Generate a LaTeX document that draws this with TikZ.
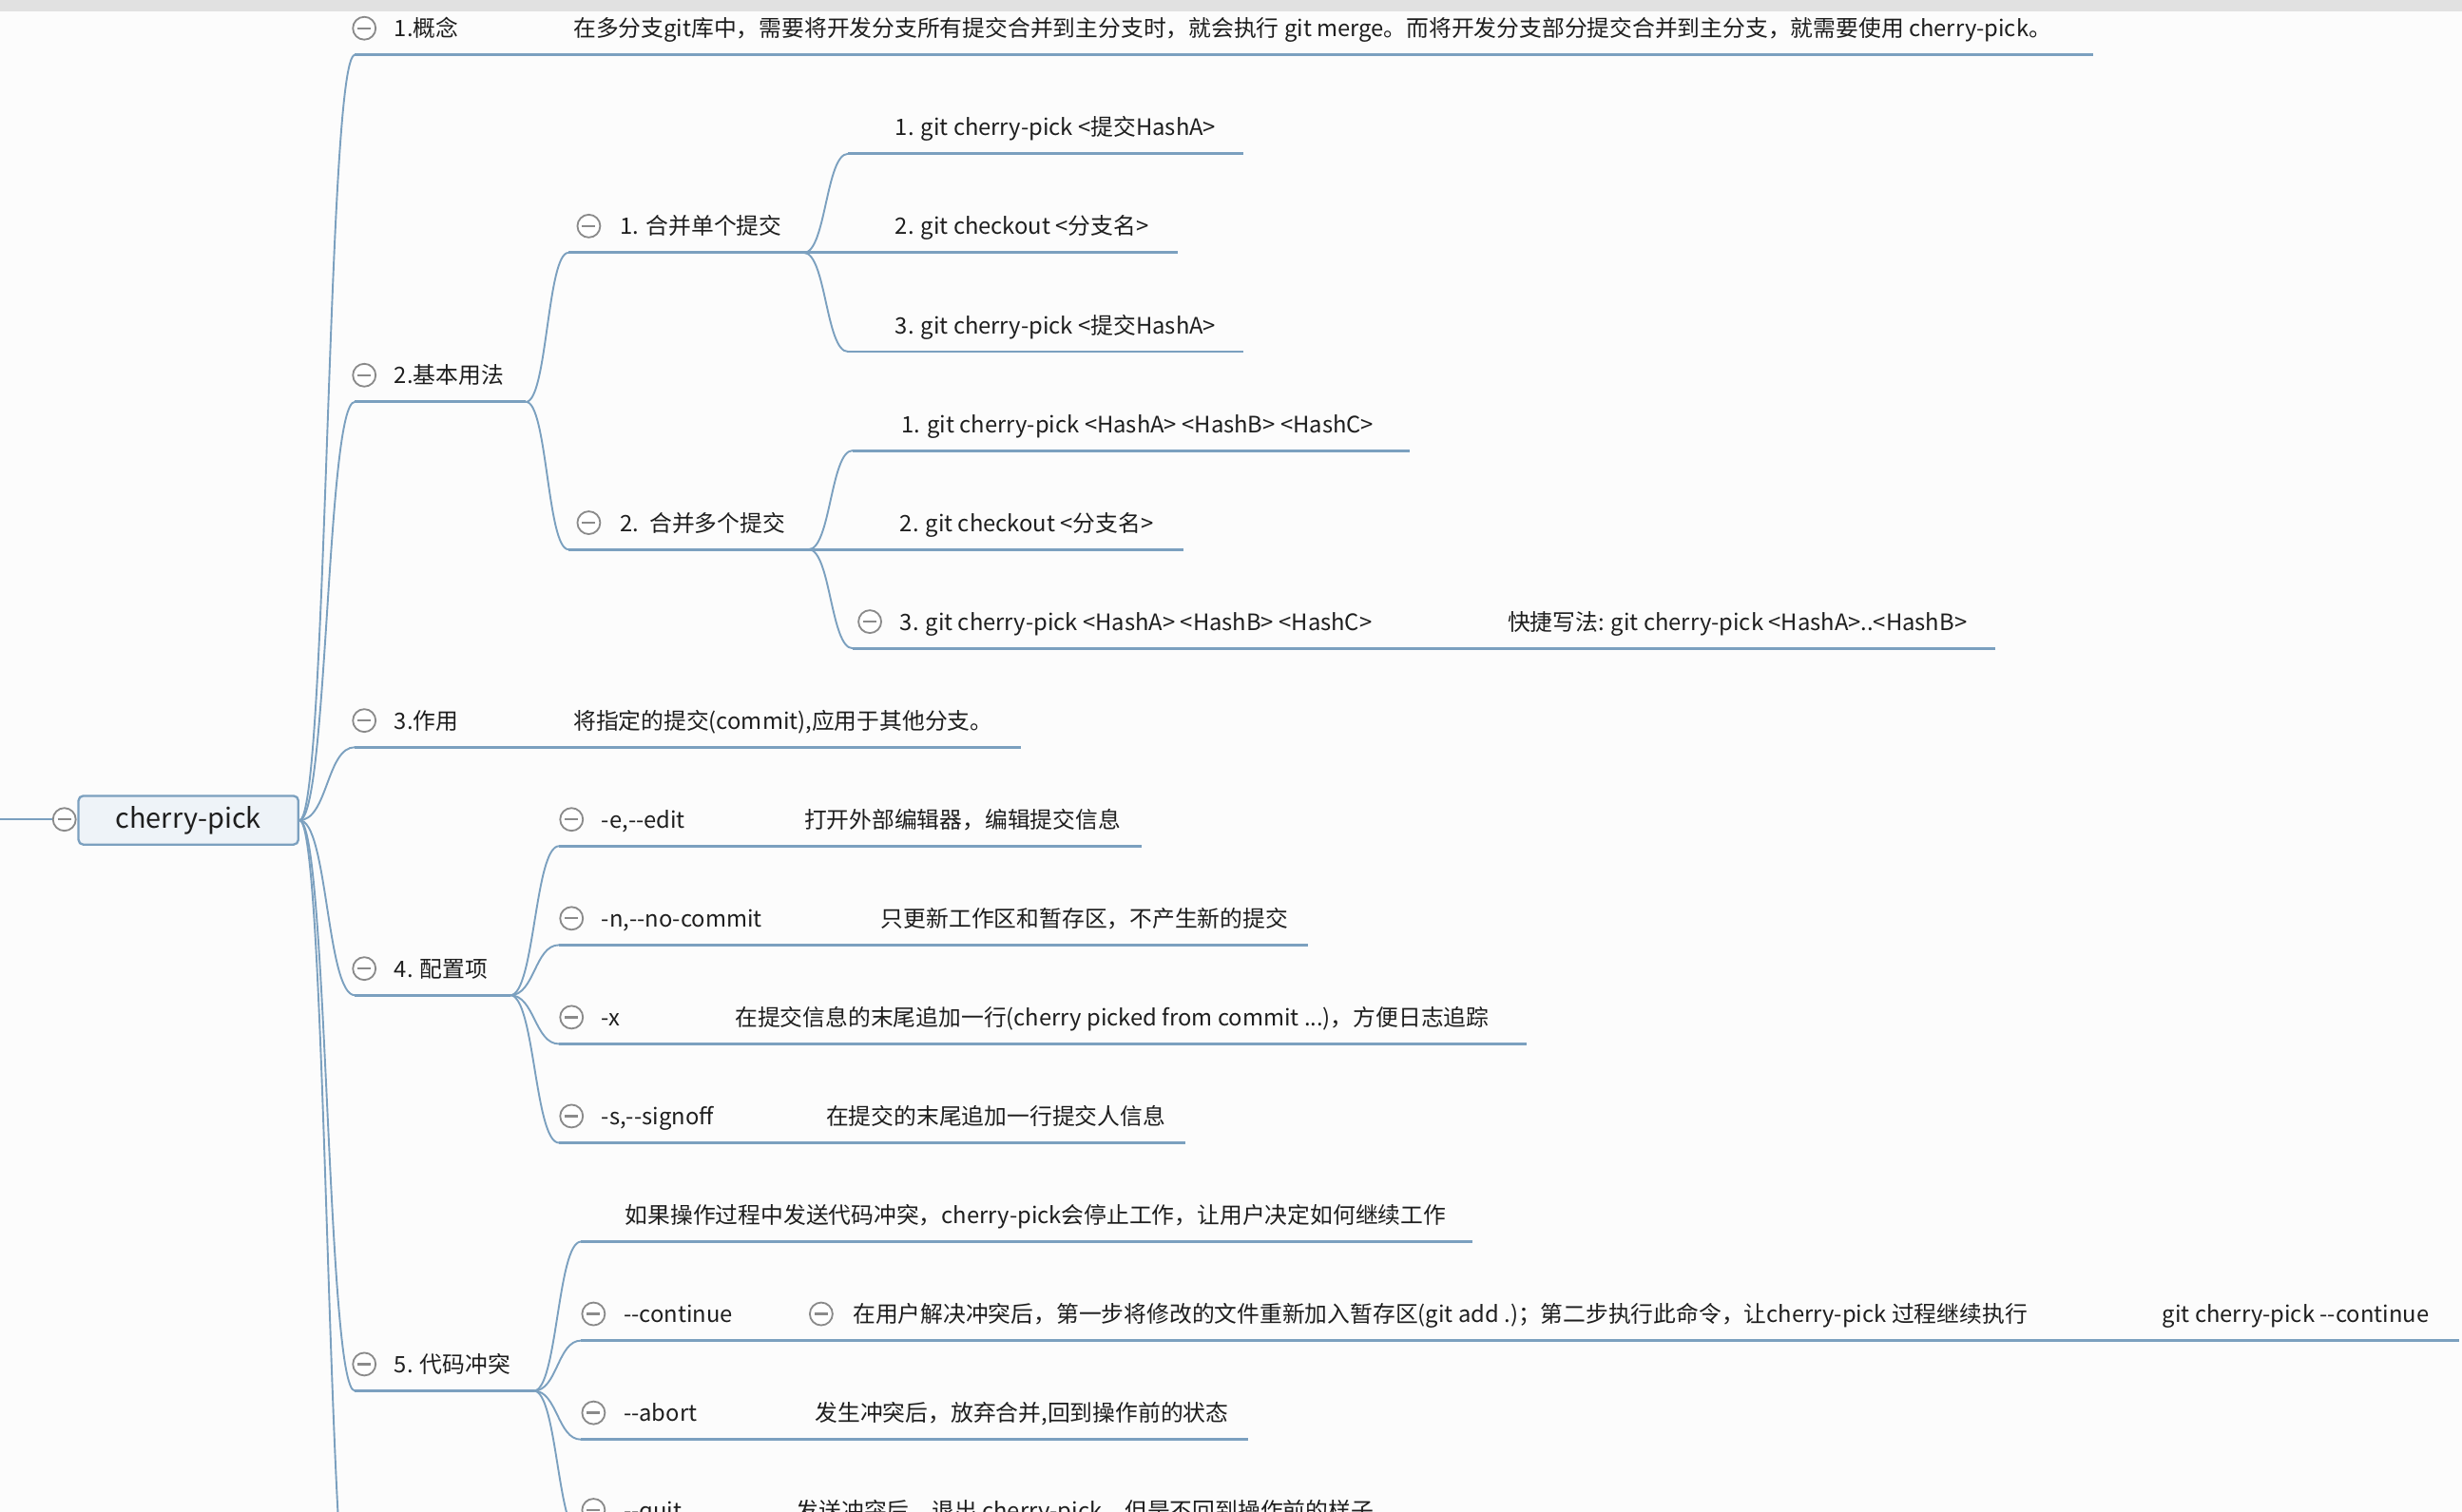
\documentclass[tikz,border=0pt]{standalone}
\usepackage{fontspec}
\setmainfont{Noto Sans CJK SC}[Ligatures=TeXOff]
\usetikzlibrary{calc}
\definecolor{lc}{HTML}{7BA0BF}
\definecolor{bg}{HTML}{FCFCFC}
\definecolor{topbar}{HTML}{E1E1E1}
\definecolor{rootfill}{HTML}{EEF3F8}
\definecolor{cg}{HTML}{8A8A8A}
\definecolor{tx}{HTML}{1E1E1E}
\newcommand{\cc}[3]{\draw[conn] (#1) .. controls ($(#1)+(#3,0)$) and ($(#2)-(#3,0)$) .. (#2);}
\begin{document}
\begin{tikzpicture}[x=1pt,y=-1pt,
  font=\fontsize{14.4}{17}\selectfont,
  conn/.style={draw=lc, line width=1.15pt},
  uline/.style={draw=lc, line width=1.8pt},
  txt/.style={anchor=base west, inner sep=0pt, text=tx},
  col/.style={circle, draw=cg, fill=white, line width=1.1pt, minimum size=14.5pt, inner sep=0pt,
    path picture={\draw[cg, line width=1.4pt] ([xshift=-4.2pt]path picture bounding box.center) -- ([xshift=4.2pt]path picture bounding box.center);}},
  rootbox/.style={draw=lc, line width=1.4pt, fill=rootfill, rounded corners=3pt, minimum width=140pt, minimum height=31pt, inner sep=0pt, text=tx, font=\fontsize{17.5}{20}\selectfont}]
\useasboundingbox (0,0) rectangle (1568,963);
\clip (0,0) rectangle (1568,963);
\fill[bg] (0,0) rectangle (1568,963);
\fill[topbar] (0,0) rectangle (1568,7);

% root
\node[rootbox] (root) at (120,522.5) {cherry-pick};
\node[col] (rc) at (41,522) {};
\coordinate (lft) at (0,522);
\draw[conn] (lft) -- (rc.west);

% level 1 coordinates
\coordinate (As) at (226,35);  \coordinate (Ae) at (1333,35);
\coordinate (Bs) at (226,256); \coordinate (Be) at (335,256);
\coordinate (Cs) at (226,476); \coordinate (Ce) at (650,476);
\coordinate (Ds) at (226,634); \coordinate (De) at (325,634);
\coordinate (Es) at (226,886); \coordinate (Ee) at (340,886);
\coordinate (Fs) at (226,1050);

\cc{root.east}{As}{18} \cc{root.east}{Bs}{18} \cc{root.east}{Cs}{18}
\cc{root.east}{Ds}{18} \cc{root.east}{Es}{18} \cc{root.east}{Fs}{18}
\draw[uline] (As) -- (Ae);
\draw[uline] (Bs) -- (Be);
\draw[uline] (Cs) -- (Ce);
\draw[uline] (Ds) -- (De);
\draw[uline] (Es) -- (Ee);

% 1. concept
\node[col] (Ac) at (232,18) {};
\node[txt] (At) at (251,23.5) {1.概念};
\node[txt] (Ad) at (365,23.5) {在多分支git库中，需要将开发分支所有提交合并到主分支时，就会执行 git merge。而将开发分支部分提交合并到主分支，就需要使用 cherry-pick。};

% 2. basic usage
\node[col] (Bc) at (232,239) {};
\node[txt] (Bt) at (251,244.5) {2.基本用法};
\coordinate (B1s) at (362,161); \coordinate (B1e) at (512,161);
\coordinate (B2s) at (362,350); \coordinate (B2e) at (515,350);
\cc{Be}{B1s}{13.5} \cc{Be}{B2s}{13.5}
\draw[uline] (B1s) -- (B1e);
\draw[uline] (B2s) -- (B2e);
\node[col] (B1c) at (375,144) {};
\node[txt] (B1t) at (395,149.5) {1. 合并单个提交};
\node[col] (B2c) at (375,333) {};
\node[txt] (B2t) at (395,338.5) {2.\ \ 合并多个提交};

\coordinate (B1as) at (540,98);  \coordinate (B1ae) at (792,98);
\coordinate (B1be) at (750,161);
\coordinate (B1cs) at (540,224); \coordinate (B1ce) at (792,224);
\cc{B1e}{B1as}{14} \cc{B1e}{B1cs}{14}
\draw[uline] (B1as) -- (B1ae);
\draw[uline] (B1e) -- (B1be);
\draw[uline] (B1cs) -- (B1ce);
\node[txt] (B1at) at (570,86.5) {1. git cherry-pick <提交HashA>};
\node[txt] (B1bt) at (570,149.5) {2. git checkout <分支名>};
\node[txt] (B1ct) at (570,212.5) {3. git cherry-pick <提交HashA>};

\coordinate (B2as) at (543,287);  \coordinate (B2ae) at (898,287);
\coordinate (B2be) at (754,350);
\coordinate (B2cs) at (543,413); \coordinate (B2ce) at (1271,413);
\cc{B2e}{B2as}{14} \cc{B2e}{B2cs}{14}
\draw[uline] (B2as) -- (B2ae);
\draw[uline] (B2e) -- (B2be);
\draw[uline] (B2cs) -- (B2ce);
\node[txt] (B2at) at (574,275.5) {1. git cherry-pick <HashA> <HashB> <HashC>};
\node[txt] (B2bt) at (573,338.5) {2. git checkout <分支名>};
\node[col] (B2cc) at (554,396) {};
\node[txt] (B2ct) at (573,401.5) {3. git cherry-pick <HashA> <HashB> <HashC>};
\node[txt] (B2cd) at (960,401.5) {快捷写法: git cherry-pick <HashA>..<HashB>};

% 3. effect
\node[col] (Cc) at (232,459) {};
\node[txt] (Ct) at (251,464.5) {3.作用};
\node[txt] (Cd) at (365,464.5) {将指定的提交(commit),应用于其他分支。};

% 4. options
\node[col] (Dc) at (232,617) {};
\node[txt] (Dt) at (251,622.5) {4. 配置项};
\coordinate (D1s) at (356,539); \coordinate (D1e) at (727,539);
\coordinate (D2s) at (356,602); \coordinate (D2e) at (833,602);
\coordinate (D3s) at (356,665); \coordinate (D3e) at (972,665);
\coordinate (D4s) at (356,728); \coordinate (D4e) at (755,728);
\cc{De}{D1s}{15.5} \cc{De}{D2s}{15.5} \cc{De}{D3s}{15.5} \cc{De}{D4s}{15.5}
\draw[uline] (D1s) -- (D1e);
\draw[uline] (D2s) -- (D2e);
\draw[uline] (D3s) -- (D3e);
\draw[uline] (D4s) -- (D4e);
\node[col] (D1c) at (364,522) {};
\node[txt] (D1t) at (383,527.5) {-e,--edit};
\node[txt] (D1d) at (512,527.5) {打开外部编辑器，编辑提交信息};
\node[col] (D2c) at (364,585) {};
\node[txt] (D2t) at (383,590.5) {-n,--no-commit};
\node[txt] (D2d) at (561,590.5) {只更新工作区和暂存区，不产生新的提交};
\node[col] (D3c) at (364,648) {};
\node[txt] (D3t) at (383,653.5) {-x};
\node[txt] (D3d) at (468,653.5) {在提交信息的末尾追加一行(cherry picked from commit ...)，方便日志追踪};
\node[col] (D4c) at (364,711) {};
\node[txt] (D4t) at (383,716.5) {-s,--signoff};
\node[txt] (D4d) at (526,716.5) {在提交的末尾追加一行提交人信息};

% 5. conflicts
\node[col] (Ec) at (232,869) {};
\node[txt] (Et) at (251,874.5) {5. 代码冲突};
\coordinate (E1s) at (370,791); \coordinate (E1e) at (938,791);
\coordinate (E2s) at (370,854); \coordinate (E2e) at (1566,854);
\coordinate (E3s) at (370,917); \coordinate (E3e) at (795,917);
\coordinate (E4s) at (370,979); \coordinate (E4e) at (900,979);
\cc{Ee}{E1s}{15} \cc{Ee}{E2s}{15} \cc{Ee}{E3s}{15} \cc{Ee}{E4s}{15}
\draw[uline] (E1s) -- (E1e);
\draw[uline] (E2s) -- (E2e);
\draw[uline] (E3s) -- (E3e);
\draw[uline] (E4s) -- (E4e);
\node[txt] (E1t) at (398,779.5) {如果操作过程中发送代码冲突，cherry-pick会停止工作，让用户决定如何继续工作};
\node[col] (E2c) at (378,837) {};
\node[txt] (E2t) at (397,842.5) {--continue};
\node[col] (E2dc) at (523,837) {};
\node[txt] (E2d) at (543,842.5) {在用户解决冲突后，第一步将修改的文件重新加入暂存区(git add .)；第二步执行此命令，让cherry-pick 过程继续执行};
\node[txt] (E2g) at (1377,842.5) {git cherry-pick --continue};
\node[col] (E3c) at (378,900) {};
\node[txt] (E3t) at (397,905.5) {--abort};
\node[txt] (E3d) at (519,905.5) {发生冲突后，放弃合并,回到操作前的状态};
\node[col] (E4c) at (378,962) {};
\node[txt] (E4t) at (397,967.5) {--quit};
\node[txt] (E4d) at (507,967.5) {发送冲突后，退出 cherry-pick，但是不回到操作前的样子};
\end{tikzpicture}
\end{document}
